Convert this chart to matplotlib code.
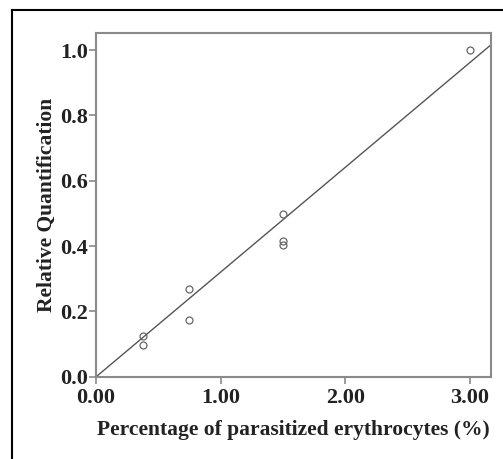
import numpy as np
from matplotlib import pyplot as plt
from matplotlib.lines import Line2D

# datos
parasit = [0.375, 0.375, 0.75, 0.75, 1.5, 1.5, 1.5, 3.0]
rq = [0.125, 0.097, 0.270, 0.174, 0.498, 0.415, 0.403, 1.0]
xticks = [0.0, 1.0, 2.0, 3.0]
xlabels = ["0.00", "1.00", "2.00", "3.00"]
yticks = [0.0, 0.2, 0.4, 0.6, 0.8, 1.0]
ylabels = ["0.0", "0.2", "0.4", "0.6", "0.8", "1.0"]

plt.rcParams['font.family'] = ['Liberation Serif', 'DejaVu Serif']

fig = plt.figure(figsize=(5.03, 4.59), dpi=100)
ax = fig.add_axes([0.191, 0.179, 0.785, 0.749])

x = np.array(parasit)
y = np.array(rq)
pend = np.sum(x * y) / np.sum(x * x)  # ajuste por el origen
xl = np.array([0, 3.17])
ax.plot(xl, pend * xl * 1.02, color="#555555", lw=1.0)
ax.plot(x, y, "o", mfc="none", mec="#666666", ms=5, mew=0.9)

ax.set_xlim(0, 3.17)
ax.set_ylim(0, 1.052)
ax.set_xticks(xticks, xlabels)
ax.set_yticks(yticks, ylabels)
for s in ax.spines.values():
    s.set_color("#8a8a8a")
    s.set_linewidth(1.5)
ax.tick_params(colors="#8a8a8a", width=1.2, length=5, labelcolor="#222222",
               labelsize=16, pad=1)
ax.tick_params(axis="x", pad=3)
for t in ax.get_xticklabels() + ax.get_yticklabels():
    t.set_fontweight("bold")
ax.set_xlabel("Percentage of parasitized erythrocytes (%)", fontsize=15.5,
              fontweight="bold", color="#222222", labelpad=9)
ax.set_ylabel("Relative Quantification", fontsize=15.5, fontweight="bold",
              color="#222222", labelpad=2)

# marco exterior
fig.add_artist(Line2D([0.024, 0.024], [0, 0.978], color="black", lw=1.5,
                      transform=fig.transFigure))
fig.add_artist(Line2D([0.024, 1], [0.978, 0.978], color="black", lw=1.5,
                      transform=fig.transFigure))

plt.savefig("out.png", dpi=100)
